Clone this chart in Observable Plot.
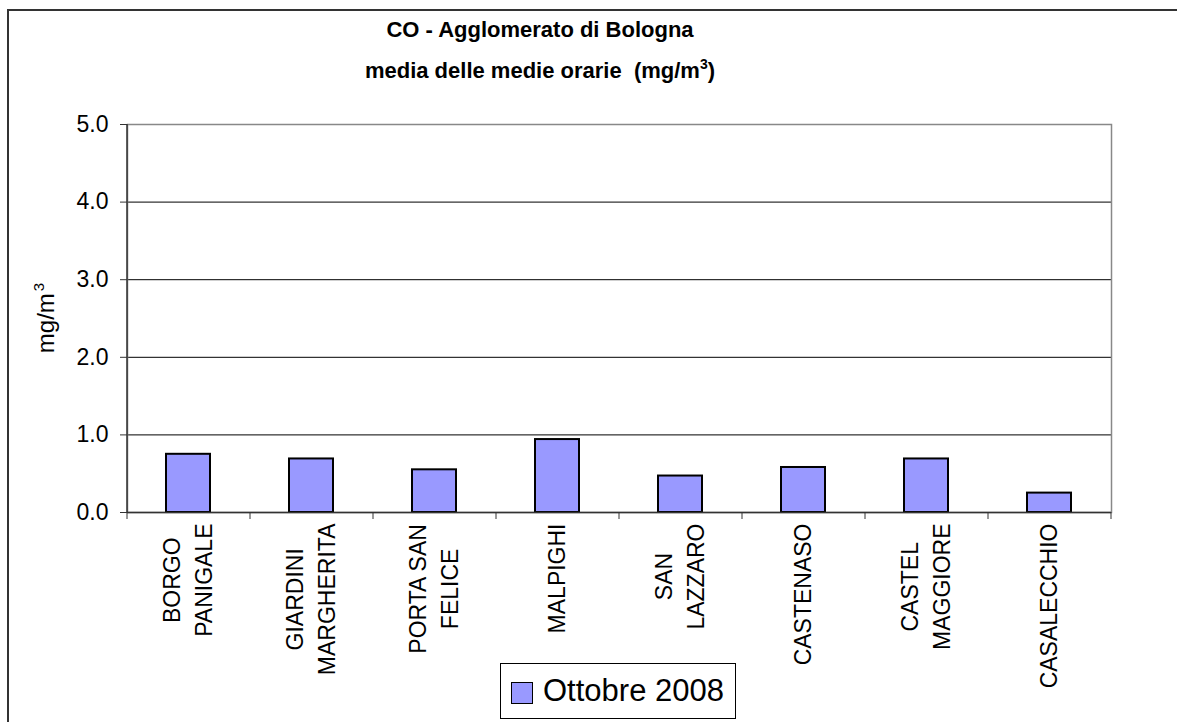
<!DOCTYPE html>
<html>
<head>
<meta charset="utf-8">
<script src="https://cdn.jsdelivr.net/npm/d3@7"></script>
<script src="https://cdn.jsdelivr.net/npm/@observablehq/plot@0.6"></script>
<style>
  html, body { margin: 0; padding: 0; background: #fff; overflow: hidden; }
  #wrap { position: relative; width: 1177px; height: 722px; overflow: hidden; font-family: "Liberation Sans", Arial, sans-serif; color: #000; }
  #bl { position: absolute; left: 7px; top: 9px; width: 2px; height: 713px; background: #333; }
  #bt { position: absolute; left: 7px; top: 9px; width: 1170px; height: 2px; background: #333; }
  .title { position: absolute; left: 0; width: 1080px; text-align: center; font-weight: bold; font-size: 22px; line-height: 22px; white-space: pre; }
  .title sup { font-size: 14px; vertical-align: 0; position: relative; top: -9px; }
  #ylab { position: absolute; left: 47px; top: 318px; width: 0; height: 0; }
  #ylab div { position: absolute; left: 0; top: 0; transform: translate(-50%, -50%) rotate(-90deg); font-size: 24px; line-height: 26px; white-space: pre; }
  #ylab sup { font-size: 15px; vertical-align: 0; position: relative; top: -10px; margin-left: 2px; }
  #legend { position: absolute; left: 500px; top: 663px; width: 236px; height: 56px; border: 1px solid #000; box-sizing: border-box; background: #fff; }
  #legend .sw { position: absolute; left: 10px; top: 18px; width: 22px; height: 22px; background: #9999FF; border: 1px solid #000; box-sizing: border-box; }
  #legend .lt { position: absolute; left: 42px; top: 10px; font-size: 31px; line-height: 34px; white-space: pre; }
  #chart { position: absolute; left: 0; top: 0; }
</style>
</head>
<body>
<div id="wrap">
  <div id="bl"></div>
  <div id="bt"></div>
  <div id="chart"></div>
  <div class="title" id="t1" style="top:19px"></div>
  <div class="title" id="t2" style="top:60px"></div>
  <div id="ylab"><div id="yl"></div></div>
  <div id="legend"><div class="sw"></div><div class="lt" id="lt"></div></div>
</div>
<script>
const categories = ["BORGO PANIGALE", "GIARDINI MARGHERITA", "PORTA SAN FELICE", "MALPIGHI", "SAN LAZZARO", "CASTENASO", "CASTEL MAGGIORE", "CASALECCHIO"];
const categoryLabels = ["BORGO\nPANIGALE", "GIARDINI\nMARGHERITA", "PORTA SAN\nFELICE", "MALPIGHI", "SAN\nLAZZARO", "CASTENASO", "CASTEL\nMAGGIORE", "CASALECCHIO"];
const values = [0.75, 0.69, 0.55, 0.94, 0.47, 0.58, 0.69, 0.25];
const yTicks = [0, 1, 2, 3, 4, 5];
const gridTicks = [1, 2, 3, 4];
const seriesName = "Ottobre 2008";
const titleLine1 = "CO - Agglomerato di Bologna";
const titleLine2 = "media delle medie orarie  (mg/m";
const yLabel = "mg/m";
const unitExponent = "3";

document.getElementById("t1").textContent = titleLine1;
document.getElementById("t2").innerHTML = titleLine2 + "<sup>" + unitExponent + "</sup>)";
document.getElementById("yl").innerHTML = yLabel + "<sup>" + unitExponent + "</sup>";
document.getElementById("lt").textContent = seriesName;

const W = 1177, H = 722, ML = 127, MR = 66, MT = 124, MB = 210;
const step = (W - ML - MR) / categories.length;
const font = '"Liberation Sans", Arial, sans-serif';
const labelSize = 23;

const ctx = document.createElement("canvas").getContext("2d");
ctx.font = `${labelSize}px "Liberation Sans", Arial, sans-serif`;
const maxLineWidth = (s) => Math.max(...s.split("\n").map(l => ctx.measureText(l).width));

const data = categories.map((c, i) => ({cat: c, value: values[i], label: categoryLabels[i]}));

const labelMarks = data.map(d => Plot.text([d], {
  x: "cat", text: "label", frameAnchor: "bottom", rotate: -90,
  textAnchor: "middle", lineAnchor: "middle", lineHeight: 1.4,
  fontSize: labelSize, fill: "#000", dx: -3, dy: 11 + maxLineWidth(d.label) / 2
}));

const chart = Plot.plot({
  width: W, height: H,
  marginLeft: ML, marginRight: MR, marginTop: MT, marginBottom: MB,
  style: {fontFamily: font, fontSize: "23px", color: "#000", background: "transparent", overflow: "visible"},
  x: {domain: categories, paddingInner: 0.64, paddingOuter: 0.32, axis: null},
  y: {domain: [0, 5], axis: null},
  marks: [
    Plot.gridY(gridTicks, {stroke: "#000", strokeOpacity: 1, strokeWidth: 1}),
    Plot.frame({stroke: "#888", strokeWidth: 1.5}),
    Plot.barY(data, {x: "cat", y: "value", fill: "#9999FF", stroke: "#000", strokeWidth: 2}),
    Plot.ruleY([0], {stroke: "#333", strokeWidth: 1.5}),
    Plot.ruleX([categories[0]], {dx: -step / 2, stroke: "#333", strokeWidth: 1.5}),
    Plot.ruleX(categories, {x: d => d, y1: 0, y2: 0, insetBottom: -7, dx: -step / 2, stroke: "#333", strokeWidth: 1}),
    Plot.ruleX([categories[categories.length - 1]], {x: d => d, y1: 0, y2: 0, insetBottom: -7, dx: step / 2, stroke: "#333", strokeWidth: 1}),
    Plot.axisY({ticks: yTicks, tickSize: 7, tickPadding: 12, tickFormat: d3.format(".1f"), fontSize: 23, stroke: "#333", label: null}),
    ...labelMarks
  ]
});
document.getElementById("chart").appendChild(chart);
</script>
</body>
</html>
